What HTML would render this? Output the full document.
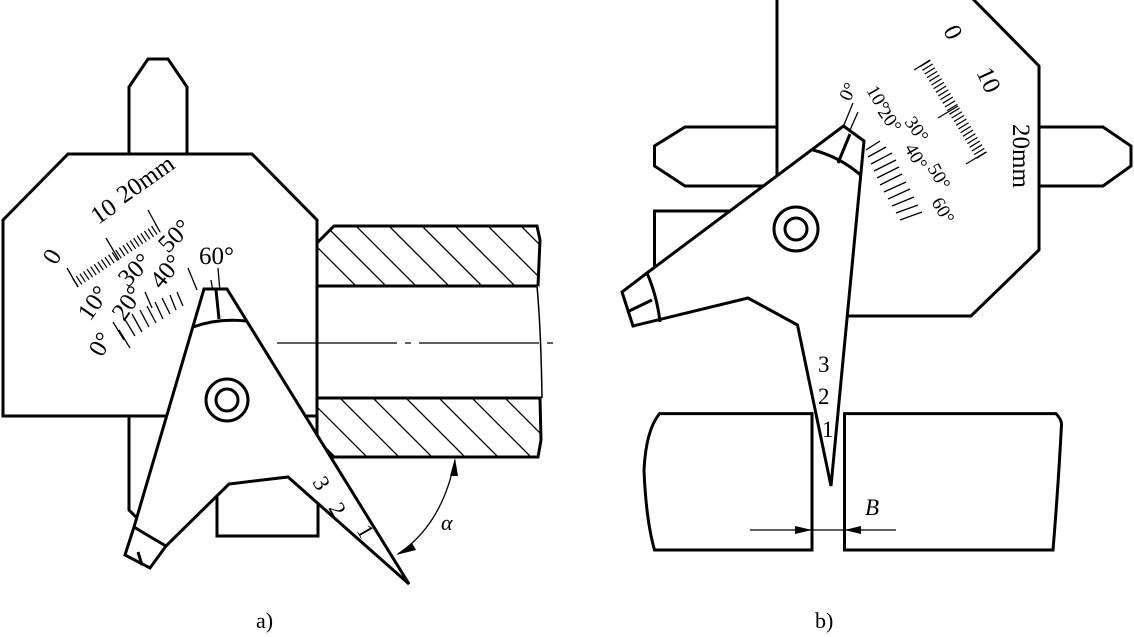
<!DOCTYPE html>
<html><head><meta charset="utf-8"><style>
html,body{margin:0;padding:0;background:#fff;}
svg{display:block;}
text{font-family:"Liberation Serif",serif;fill:#000;}
</style></head><body>
<svg width="1134" height="637" viewBox="0 0 1134 637" xmlns="http://www.w3.org/2000/svg">
<g fill="#fff" stroke="#000" stroke-width="3" stroke-linejoin="miter">
<polygon points="129,154 129,87 148,59 168,59 187,87 187,154"/>
<polygon points="129,410 129,510 136,517 180,517 180,410"/>
<rect x="217" y="470" width="101" height="66"/>
<polygon points="3,220 68,154 252,154 317,220 317,430 317,416 3,416"/>
<polygon points="334,226 537,226 540,240 538,286 317,286 317,243"/>
<polygon points="317,398 540,398 541,440 538,457 334,457 317,440"/>
<rect x="317" y="286" width="222" height="112" stroke="none"/>
<line x1="317" y1="220" x2="317" y2="440"/>
<line x1="317" y1="286" x2="537" y2="286"/>
<line x1="317" y1="398" x2="540" y2="398"/>
<path d="M537,286 Q541,330 542,398" fill="none" stroke-width="1.5"/>
</g>
<g stroke="#000" stroke-width="1.3">
<clipPath id="h1"><polygon points="334,226 537,226 540,240 538,286 317,286 317,243"/></clipPath>
<clipPath id="h2"><polygon points="317,398 540,398 541,440 538,457 334,457 317,440"/></clipPath>
<g clip-path="url(#h1)">
<line x1="300" y1="200" x2="400" y2="300"/><line x1="330" y1="200" x2="430" y2="300"/><line x1="363" y1="200" x2="463" y2="300"/><line x1="396" y1="200" x2="496" y2="300"/><line x1="429" y1="200" x2="529" y2="300"/><line x1="462" y1="200" x2="562" y2="300"/><line x1="495" y1="200" x2="595" y2="300"/><line x1="270" y1="200" x2="370" y2="300"/>
</g>
<g clip-path="url(#h2)">
<line x1="290" y1="380" x2="390" y2="480"/><line x1="322" y1="380" x2="422" y2="480"/><line x1="355" y1="380" x2="455" y2="480"/><line x1="388" y1="380" x2="488" y2="480"/><line x1="421" y1="380" x2="521" y2="480"/><line x1="454" y1="380" x2="554" y2="480"/><line x1="487" y1="380" x2="587" y2="480"/><line x1="520" y1="380" x2="620" y2="480"/>
</g>
</g>
<line x1="277" y1="343" x2="559" y2="343" stroke="#000" stroke-width="1.3" stroke-dasharray="120 8 6 8"/>
<g stroke="#000" stroke-width="1.3">
<line x1="75" y1="283" x2="158" y2="228" stroke-width="10" stroke-dasharray="1.2 3.1"/>
<line x1="78" y1="287" x2="67" y2="268"/>
<line x1="119" y1="260" x2="106" y2="238"/>
<line x1="160" y1="232" x2="148" y2="210"/>
<line x1="113" y1="322" x2="124" y2="340"/><line x1="119" y1="330" x2="130" y2="348"/><line x1="124" y1="318" x2="135" y2="336"/>
<line x1="132" y1="314" x2="142" y2="332"/><line x1="140" y1="310" x2="149" y2="327"/><line x1="147" y1="306" x2="156" y2="323"/>
<line x1="155" y1="302" x2="163" y2="319"/><line x1="162" y1="298" x2="170" y2="314"/><line x1="170" y1="295" x2="176" y2="310"/>
<line x1="177" y1="292" x2="183" y2="306"/><line x1="188" y1="268" x2="197" y2="290"/><line x1="211" y1="280" x2="213" y2="292"/>
<line x1="218" y1="268" x2="220" y2="292"/><line x1="145" y1="292" x2="152" y2="308"/>
</g>
<g font-size="25">
<text transform="translate(56,266) rotate(-60)">0</text>
<text transform="translate(98,225) rotate(-35)">10</text>
<text transform="translate(124,204) rotate(-35)">20mm</text>
<text transform="translate(102,358) rotate(-60)">0°</text>
<text transform="translate(90,322) rotate(-55)">10°</text>
<text transform="translate(124,322) rotate(-55)">20°</text>
<text transform="translate(128,288) rotate(-45)">30°</text>
<text transform="translate(161,290) rotate(-50)">40°</text>
<text transform="translate(168,254) rotate(-45)">50°</text>
<text transform="translate(199,264)">60°</text>
</g>
<g fill="#fff" stroke="#000" stroke-width="3">
<polygon points="204,289 227,289 409,584 288,477 229,484 166,546 150,568 125,555 134,527"/>
</g>
<g fill="none" stroke="#000" stroke-width="3">
<path d="M193,327 Q218,318 246,321"/>
<line x1="216" y1="290" x2="219" y2="319"/>
<path d="M134,527 Q152,538 166,546"/>
<line x1="138" y1="552" x2="142" y2="565"/>
<circle cx="227" cy="400" r="21"/>
<circle cx="227" cy="400" r="11"/>
</g>
<g font-size="23">
<text transform="translate(312,482) rotate(60)">3</text>
<text transform="translate(328,508) rotate(60)">2</text>
<text transform="translate(356,530) rotate(60)">1</text>
</g>
<g stroke="#000" stroke-width="1.3" fill="none">
<path d="M455,460 Q442,525 398,554"/>
</g>
<polygon points="455,458 450,476 458,476" fill="#000"/>
<polygon points="396,555 412,543 416,550" fill="#000"/>
<text x="441" y="530" font-size="22" font-style="italic">α</text>
<text x="256" y="628" font-size="22">a)</text>

<g fill="#fff" stroke="#000" stroke-width="3">
<polygon points="777,127 685,127 654.5,146 654.5,166 685,186 777,186"/>
<polygon points="1039,127 1103,127 1131,146 1131,166 1103,186 1039,186"/>
<rect x="654.5" y="211" width="195" height="85"/>
<polygon points="777,-3 971,-3 1039,66 1039,250 971,316 810,316 777,280"/>
</g>
<g stroke="#000" stroke-width="1.3">
<line x1="925" y1="63" x2="982" y2="156" stroke-width="12" stroke-dasharray="1.2 3.1"/>
<line x1="930" y1="60" x2="914" y2="70"/>
<line x1="958" y1="106" x2="938" y2="118"/>
<line x1="986" y1="152" x2="966" y2="164"/>
<line x1="866" y1="150" x2="880" y2="141"/><line x1="868" y1="157" x2="886" y2="147"/><line x1="871" y1="164" x2="892" y2="153"/>
<line x1="874" y1="171" x2="896" y2="160"/><line x1="877" y1="178" x2="899" y2="167"/><line x1="880" y1="185" x2="902" y2="174"/>
<line x1="884" y1="192" x2="906" y2="182"/><line x1="888" y1="199" x2="910" y2="189"/><line x1="892" y1="206" x2="914" y2="197"/>
<line x1="896" y1="213" x2="918" y2="205"/><line x1="900" y1="220" x2="922" y2="212"/>
</g>
<g font-size="25">
<text transform="translate(943,30) rotate(65)">0</text>
<text transform="translate(976,72) rotate(65)">10</text>
<text transform="translate(1013,124) rotate(90)">20mm</text>
</g>
<g font-size="19">
<text transform="translate(850,102) rotate(-65)">0°</text>
<text transform="translate(866,90) rotate(60)">10°</text>
<text transform="translate(877,112) rotate(55)">20°</text>
<text transform="translate(904,122) rotate(55)">30°</text>
<text transform="translate(904,148) rotate(60)">40°</text>
<text transform="translate(927,168) rotate(60)">50°</text>
<text transform="translate(931,202) rotate(60)">60°</text>
</g>
<g fill="#fff" stroke="#000" stroke-width="3">
<path d="M659.6,413.6 L812,413.6 L812,550 L654.5,550 Q646,520 644,470 Q646,430 659.6,413.6 Z"/>
<path d="M844.5,413.6 L1056,413.6 Q1062,420 1061.5,425 Q1058,490 1053,550 L844.5,550 Z"/>
</g>
<g fill="#fff" stroke="#000" stroke-width="3">
<polygon points="843.5,126 864,141 831,486 797.5,325 748,298 633,326 622,292 647,273"/>
</g>
<g fill="none" stroke="#000" stroke-width="3">
<path d="M813,150 Q840,157 860.5,175"/>
<line x1="850" y1="134" x2="838" y2="163"/>
<path d="M647,273 Q657,296 660,322"/>
<line x1="627" y1="312" x2="652" y2="300"/>
<circle cx="796" cy="229" r="22"/>
<circle cx="796" cy="229" r="11"/>
</g>
<line x1="843.5" y1="126" x2="853" y2="103" stroke="#000" stroke-width="1.3"/>
<line x1="850" y1="130" x2="858" y2="112" stroke="#000" stroke-width="1.3"/>
<g font-size="23">
<text x="818" y="372">3</text>
<text x="818" y="404">2</text>
<text x="822" y="437">1</text>
</g>
<line x1="750" y1="530" x2="896" y2="530" stroke="#000" stroke-width="1.3"/>
<polygon points="812,530 795,526 795,534" fill="#000"/>
<polygon points="844.5,530 861,526 861,534" fill="#000"/>
<text x="865" y="515" font-size="23" font-style="italic">B</text>
<text x="815" y="628" font-size="22">b)</text>
</svg>
</body></html>
